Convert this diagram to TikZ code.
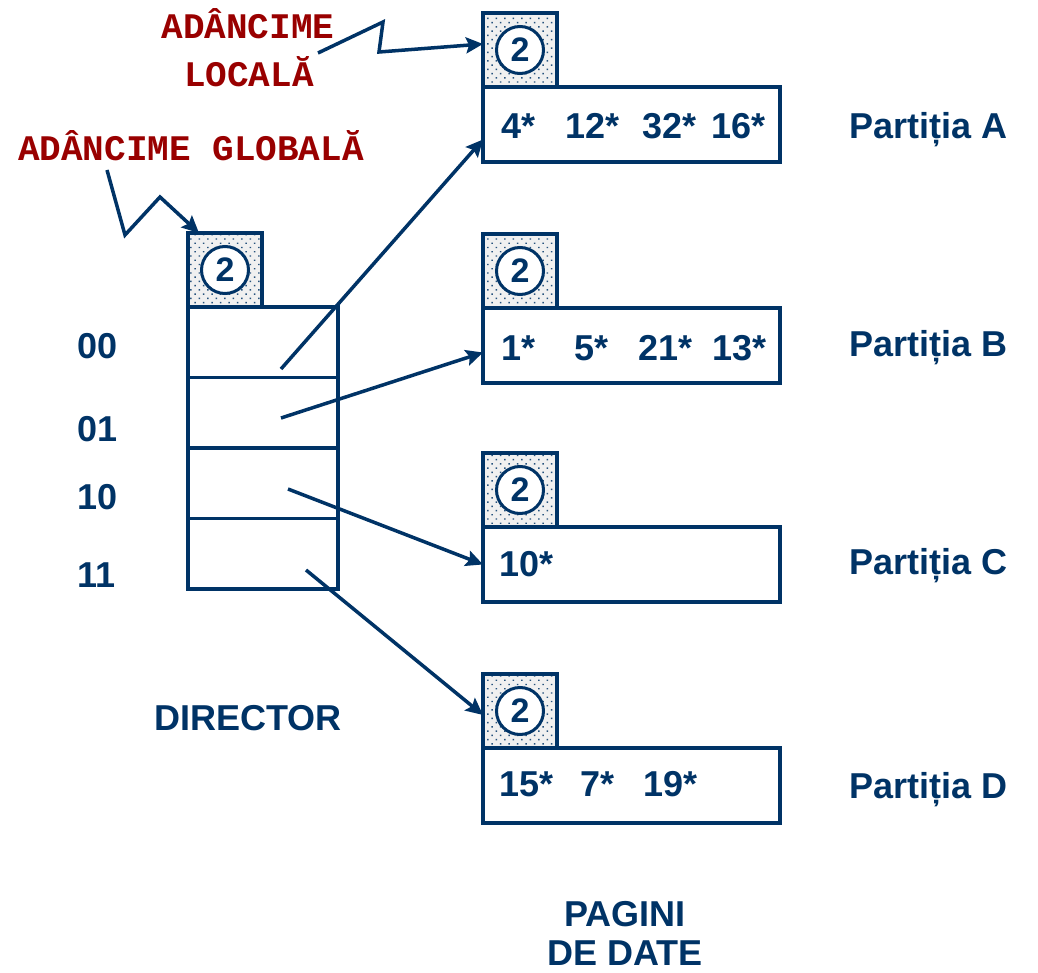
\documentclass[tikz,border=0pt]{standalone}
\usepackage{fontspec}
\setmainfont{Liberation Sans}
\newfontfamily\notefont{Liberation Mono}
\usetikzlibrary{arrows.meta,patterns.meta,positioning}
\definecolor{navy}{RGB}{0,51,102}
\definecolor{darkred}{RGB}{153,0,0}

\begin{document}
\begin{tikzpicture}[x=1pt,y=-1pt,
	every node/.style={inner sep=0pt, outer sep=0pt},
	box/.style={draw=navy, line width=3.8pt},
	depth/.style={box, minimum width=74pt, minimum height=74pt,
		preaction={fill=gray!12},
		preaction={pattern={Dots[angle=45,distance=6pt,radius=1pt]}, pattern color=navy!85}},
	page/.style={box, minimum width=297pt, minimum height=75pt},
	slot/.style={box, minimum width=150pt, minimum height=70.5pt},
	num/.style={draw=navy, line width=3pt, circle, minimum size=47pt, fill=white, text=navy,
		font=\fontsize{34}{34}\selectfont\bfseries},
	lbl/.style={text=navy, font=\fontsize{36}{40}\selectfont\bfseries},
	note/.style={text=darkred, font=\fontsize{36}{48}\selectfont\notefont\bfseries},
	pointer/.style={navy, line width=3.5pt, -{Stealth[length=17pt,width=16pt,inset=3pt]}}]
	\useasboundingbox (0,0) rectangle (1038,973);

	% director
	\node[depth, anchor=north west] (depthG) at (188,233) {};
	\node[num] (cG) at (depthG) {2};
	\node[slot, anchor=north west] (dir00) at (depthG.south west) {};
	\node[slot, below=0pt of dir00] (dir01) {};
	\node[slot, below=0pt of dir01] (dir10) {};
	\node[slot, below=0pt of dir10] (dir11) {};
	\foreach \b/\y in {00/359, 01/441, 10/509, 11/587}
		\node[lbl, anchor=base west] (l\b) at (77,\y) {\b};
	\node[lbl, anchor=base] (dirname) at (248,730) {DIRECTOR};

	% pages
	\foreach \p/\y in {A/13, B/234, C/453, D/674} {
		\node[depth, anchor=north west] (depth\p) at (483,\y) {};
		\node[num] (c\p) at (depth\p) {2};
		\node[page, anchor=north west] (page\p) at (depth\p.south west) {};
	}
	\foreach \x/\t [count=\i] in {501/4*, 565/12*, 642/32*, 711/16*}
		\node[lbl, anchor=base west] (eA\i) at (\x,139) {\t};
	\foreach \x/\t [count=\i] in {501/1*, 574/5*, 638/21*, 712/13*}
		\node[lbl, anchor=base west] (eB\i) at (\x,360) {\t};
	\node[lbl, anchor=base west] (eC1) at (499,576) {10*};
	\foreach \x/\t [count=\i] in {499/15*, 580/7*, 643/19*}
		\node[lbl, anchor=base west] (eD\i) at (\x,796) {\t};
	\foreach \p/\y in {A/139, B/356, C/574, D/798}
		\node[lbl, anchor=base west] (part\p) at (849,\y) {Partiția \p};
	\node[lbl, anchor=base] (pagini) at (625,926) {PAGINI};
	\node[lbl, anchor=base] (dedate) at (625,965) {DE DATE};

	% pointers from the director
	\coordinate (s00) at (281,369);
	\coordinate (s01) at (281,418);
	\coordinate (s10) at (288,489);
	\coordinate (s11) at (306,570);
	\draw[pointer] (s00) -- ([yshift=-15pt]pageA.west);
	\draw[pointer] (s01) -- ([yshift=-7pt]pageB.west);
	\draw[pointer] (s10) -- (pageC.west);
	\draw[pointer] (s11) -- ([yshift=-4pt]depthD.west);

	% depth notes
	\node[note, anchor=base] (loc1) at (248,39) {ADÂNCIME};
	\node[note, anchor=base] (loc2) at (249,87) {LOCALĂ};
	\node[note, anchor=base west] (glob) at (18,161) {ADÂNCIME GLOBALĂ};
	\coordinate (locTail) at (318,53);
	\coordinate (globTail) at (107,170);
	\draw[pointer] (locTail) -- (383,22) -- (379,52) -- ([yshift=6pt]depthA.west);
	\draw[pointer] (globTail) -- (125,235) -- (160,197) -- ([xshift=11pt]depthG.north west);
\end{tikzpicture}
\end{document}
